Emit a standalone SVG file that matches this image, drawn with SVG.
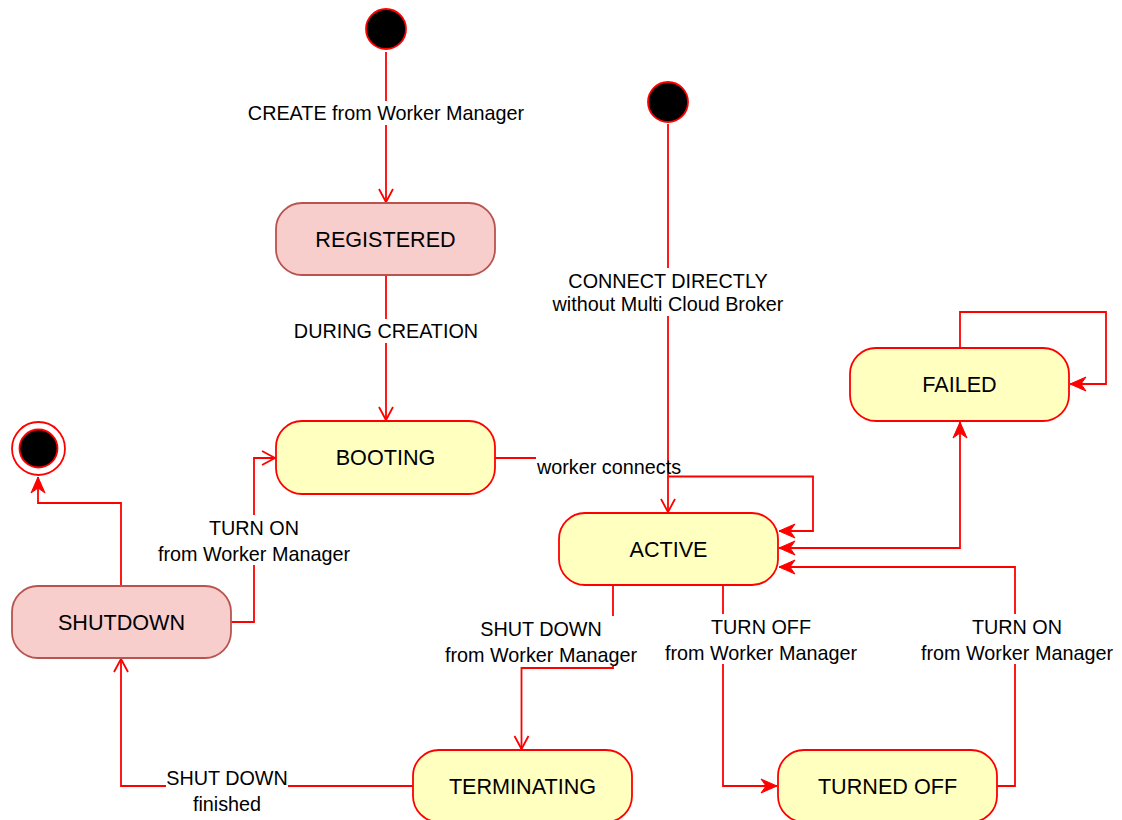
<svg xmlns="http://www.w3.org/2000/svg" width="1122" height="820" viewBox="0 0 1122 820">
  <style>
    .state rect { stroke-width: 1.8; }
    .yellow rect { fill: #ffffc0; stroke: #ff0000; }
    .pink rect { fill: #f8cecc; stroke: #b85450; }
    .state text { font-family: "Liberation Sans", Arial, sans-serif; font-size: 21.6px; fill: #000; text-anchor: middle; }
    .edge { fill: none; stroke: #ff0000; stroke-width: 1.8; }
    .lbl { font-family: "Liberation Sans", Arial, sans-serif; font-size: 19.8px; fill: #000; text-anchor: middle; }
    .bg { fill: #ffffff; }
    .start { fill: #000000; stroke: #ff0000; stroke-width: 1.8; }
  </style>
  <defs>
    <marker id="open" markerUnits="userSpaceOnUse" viewBox="-16 -10 18 20" markerWidth="18" markerHeight="20" refX="0" refY="0" orient="auto">
      <path d="M-13,-7 L0,0 L-13,7" fill="none" stroke="#ff0000" stroke-width="1.8"/>
    </marker>
    <marker id="classic" markerUnits="userSpaceOnUse" viewBox="-18 -10 20 20" markerWidth="20" markerHeight="20" refX="0" refY="0" orient="auto">
      <path d="M0,0 L-16,-7 L-11,0 L-16,7 Z" fill="#ff0000" stroke="#ff0000" stroke-width="1"/>
    </marker>
    <marker id="classicStart" markerUnits="userSpaceOnUse" viewBox="-2 -10 20 20" markerWidth="20" markerHeight="20" refX="0" refY="0" orient="auto">
      <path d="M0,0 L16,-7 L11,0 L16,7 Z" fill="#ff0000" stroke="#ff0000" stroke-width="1"/>
    </marker>
  </defs>

  <!-- transitions -->
  <g id="connectors">
    <!-- create -> registered -->
    <path class="edge" d="M386,52 V202" marker-end="url(#open)"/>
    <!-- registered -> booting -->
    <path class="edge" d="M386,275 V420" marker-end="url(#open)"/>
    <!-- direct connect -> active -->
    <path class="edge" d="M668,124 V512" marker-end="url(#open)"/>
    <!-- booting -> active -->
    <path class="edge" d="M495,458 H536"/>
    <path class="edge" d="M668,476.5 H813 V531 H779" marker-end="url(#classic)"/>
    <!-- active <-> failed -->
    <path class="edge" d="M779,548 H960 V422" marker-start="url(#classicStart)" marker-end="url(#classic)"/>
    <!-- failed self loop -->
    <path class="edge" d="M960,348 V312 H1106 V384 H1070" marker-end="url(#classic)"/>
    <!-- turned off -> active -->
    <path class="edge" d="M997,786 H1015 V567 H779" marker-end="url(#classic)"/>
    <!-- active -> turned off -->
    <path class="edge" d="M723,585 V786 H777" marker-end="url(#classic)"/>
    <!-- active -> terminating -->
    <path class="edge" d="M613,585 V668 H521.5 V749" marker-end="url(#open)"/>
    <!-- terminating -> shutdown -->
    <path class="edge" d="M413,786 H121 V659" marker-end="url(#open)"/>
    <!-- shutdown -> booting -->
    <path class="edge" d="M231,622 H254 V458 H275" marker-end="url(#open)"/>
    <!-- shutdown -> final -->
    <path class="edge" d="M121,586 V503 H38 V477" marker-end="url(#classic)"/>

    <!-- labels -->
    <rect class="bg" x="246" y="101" width="280" height="24"/>
    <text class="lbl" x="386" y="120">CREATE from Worker Manager</text>

    <rect class="bg" x="292" y="319" width="188" height="24"/>
    <text class="lbl" x="386" y="338">DURING CREATION</text>

    <rect class="bg" x="550" y="268" width="237" height="48"/>
    <text class="lbl" x="668" y="288">CONNECT DIRECTLY</text>
    <text class="lbl" x="668" y="311">without Multi Cloud Broker</text>

    <text class="lbl" x="537" y="474" style="text-anchor:start">worker connects</text>

    <rect class="bg" x="156" y="515" width="197" height="50"/>
    <text class="lbl" x="254" y="535">TURN ON</text>
    <text class="lbl" x="254" y="561">from Worker Manager</text>

    <rect class="bg" x="443" y="616" width="196" height="50"/>
    <text class="lbl" x="541" y="636">SHUT DOWN</text>
    <text class="lbl" x="541" y="662">from Worker Manager</text>

    <rect class="bg" x="663" y="614" width="196" height="50"/>
    <text class="lbl" x="761" y="634">TURN OFF</text>
    <text class="lbl" x="761" y="660">from Worker Manager</text>

    <rect class="bg" x="919" y="614" width="196" height="50"/>
    <text class="lbl" x="1017" y="634">TURN ON</text>
    <text class="lbl" x="1017" y="660">from Worker Manager</text>

    <rect class="bg" x="166" y="767" width="122" height="48"/>
    <text class="lbl" x="227" y="785">SHUT DOWN</text>
    <text class="lbl" x="227" y="811">finished</text>
  </g>

  <!-- pseudo states -->
  <g id="initial-create">
    <circle class="start" cx="386" cy="29" r="20"/>
  </g>
  <g id="initial-direct">
    <circle class="start" cx="668" cy="102" r="20"/>
  </g>
  <g id="final">
    <circle cx="38.5" cy="448.5" r="26.5" fill="#ffffff" stroke="#ff0000" stroke-width="1.8"/>
    <circle class="start" cx="38.5" cy="448.5" r="19"/>
  </g>

  <!-- states -->
  <g id="registered" class="state pink">
    <rect x="276" y="203" width="219" height="72" rx="26" ry="26"/>
    <text x="385.5" y="246.5">REGISTERED</text>
  </g>
  <g id="booting" class="state yellow">
    <rect x="276" y="421" width="219" height="73" rx="26" ry="26"/>
    <text x="385.5" y="465">BOOTING</text>
  </g>
  <g id="active" class="state yellow">
    <rect x="559" y="513" width="219" height="72" rx="26" ry="26"/>
    <text x="668.5" y="556.5">ACTIVE</text>
  </g>
  <g id="failed" class="state yellow">
    <rect x="850" y="348" width="219" height="73" rx="26" ry="26"/>
    <text x="959.5" y="392">FAILED</text>
  </g>
  <g id="shutdown" class="state pink">
    <rect x="12" y="586" width="219" height="72" rx="26" ry="26"/>
    <text x="121.5" y="629.5">SHUTDOWN</text>
  </g>
  <g id="terminating" class="state yellow">
    <rect x="413" y="750" width="219" height="72" rx="26" ry="26"/>
    <text x="522.5" y="793.5">TERMINATING</text>
  </g>
  <g id="turned-off" class="state yellow">
    <rect x="778" y="750" width="219" height="72" rx="26" ry="26"/>
    <text x="887.5" y="793.5">TURNED OFF</text>
  </g>
</svg>
